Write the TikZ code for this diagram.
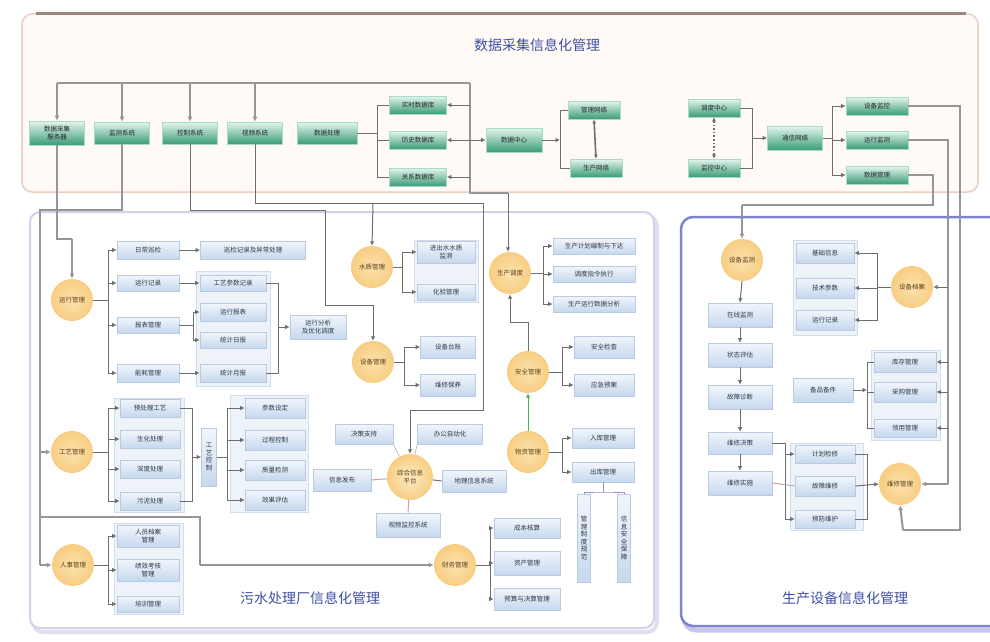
\documentclass[tikz,border=0pt]{standalone}
\usepackage{fontspec}
\newfontfamily\cjk{Noto Sans CJK SC}
\usetikzlibrary{arrows.meta,calc}
\definecolor{lnc}{HTML}{6E6E6E}
\definecolor{busc}{HTML}{969696}
\definecolor{gtop}{HTML}{E4F6EE}
\definecolor{gmid}{HTML}{9AD8BD}
\definecolor{gbot}{HTML}{3A9C78}
\definecolor{gdraw}{HTML}{A8DCC6}
\definecolor{btop}{HTML}{F2F6FC}
\definecolor{bbot}{HTML}{C6D8EE}
\definecolor{bdraw}{HTML}{BACADF}
\definecolor{oin}{HTML}{FCE3AE}
\definecolor{oout}{HTML}{F7CD82}
\definecolor{ttl}{HTML}{3F4FA6}
\definecolor{txt}{HTML}{2F3A48}
\definecolor{ctxt}{HTML}{5E3F14}
\definecolor{contf}{HTML}{EEF3FA}
\definecolor{contd}{HTML}{D3DEEC}
\definecolor{pinkl}{HTML}{C9A3A8}
\definecolor{purl}{HTML}{9A8FC8}
\definecolor{topfill}{HTML}{FFFAF5}
\definecolor{topdraw}{HTML}{E8CFC4}
\definecolor{topedge}{HTML}{9C877D}
\definecolor{llpan}{HTML}{D5CFE8}
\definecolor{rpan}{HTML}{7F83D0}
\newcommand\boxfont{\cjk\fontsize{6.5}{7.6}\selectfont}
\newcommand\ttlfont{\cjk\fontsize{14}{16}\selectfont}
\pgfdeclarelayer{bg}
\pgfsetlayers{bg,main}
\begin{document}
\begin{tikzpicture}[x=1pt,y=-1pt,
  gbox/.style={draw=gdraw, line width=0.6pt, top color=gtop, middle color=gmid, bottom color=gbot, text=black!85, font=\boxfont, inner sep=1pt, align=center},
  bbox/.style={draw=bdraw, line width=0.6pt, top color=btop, bottom color=bbot, text=txt, font=\boxfont, inner sep=1pt, align=center},
  cont/.style={draw=contd, fill=contf, line width=0.5pt},
  circ/.style={circle, minimum size=42pt, inner sep=0pt, inner color=oin, outer color=oout, font=\boxfont, text=ctxt, align=center},
  ln/.style={draw=lnc, line width=1pt},
  ar/.style={ln, -{Latex[length=4.5pt,width=4.5pt]}},
  bus/.style={draw=busc, line width=2pt},
  busar/.style={bus, -{Latex[length=5pt,width=5pt]}},
  ttlstyle/.style={font=\ttlfont, text=ttl}]
\useasboundingbox (0,0) rectangle (990,642);
\clip (0,0) rectangle (990,642);

% ---------------- panels ----------------
\begin{pgfonlayer}{bg}
\fill[white] (0,0) rectangle (990,642);
\draw[fill=topfill, draw=topdraw, line width=1.5pt, rounded corners=10pt] (22,14) rectangle (978,192);
\draw[draw=topedge, line width=3pt] (36,14) -- (966,14);
\draw[draw=llpan!70, line width=4pt, rounded corners=10pt] (33,216) rectangle (657,632);
\draw[draw=llpan, line width=2pt, fill=white, rounded corners=10pt] (30,212) rectangle (654,628);
\draw[draw=rpan!45, line width=5pt, rounded corners=12pt] (684,221) rectangle (1010,630);
\draw[draw=rpan, line width=2.5pt, fill=white, rounded corners=12pt] (681,217) rectangle (1010,626);
\draw[cont] (196,271) rectangle (270,386);
\draw[cont] (414,240) rectangle (478,302);
\draw[cont] (114,398) rectangle (184,512);
\draw[cont] (230,395) rectangle (308,512);
\draw[cont] (114,523) rectangle (183,614);
\draw[cont] (793,240) rectangle (857,335);
\draw[cont] (871,350) rectangle (940,440);
\draw[cont] (790,443) rectangle (863,530);
\end{pgfonlayer}

\node[ttlstyle] (ttop) at (537,45) {数据采集信息化管理};
\node[ttlstyle] (tleft) at (310,598) {污水处理厂信息化管理};
\node[ttlstyle] (tright) at (845,598) {生产设备信息化管理};

% ---------------- top nodes ----------------
\node[gbox, minimum width=55pt, minimum height=24pt] (T1) at (57,133) {数据采集\\服务器};
\node[gbox, minimum width=55pt, minimum height=22pt] (T2) at (122,133) {监测系统};
\node[gbox, minimum width=55pt, minimum height=22pt] (T3) at (190,133) {控制系统};
\node[gbox, minimum width=55pt, minimum height=22pt] (T4) at (255,133) {视频系统};
\node[gbox, minimum width=60pt, minimum height=22pt] (T5) at (327,133) {数据处理};
\node[gbox, minimum width=57pt, minimum height=18pt] (A) at (418,105) {实时数据库};
\node[gbox, minimum width=57pt, minimum height=18pt] (B) at (418,140) {历史数据库};
\node[gbox, minimum width=57pt, minimum height=18pt] (C) at (418,177) {关系数据库};
\node[gbox, minimum width=56pt, minimum height=24pt] (D) at (514,140) {数据中心};
\node[gbox, minimum width=52pt, minimum height=18pt] (E) at (594,110) {管理网络};
\node[gbox, minimum width=52pt, minimum height=18pt] (F) at (596,168) {生产网络};
\node[gbox, minimum width=52pt, minimum height=18pt] (G) at (714,108) {调度中心};
\node[gbox, minimum width=52pt, minimum height=18pt] (H) at (714,168) {监控中心};
\node[gbox, minimum width=55pt, minimum height=24pt] (I) at (795,138) {通信网络};
\node[gbox, minimum width=62pt, minimum height=18pt] (J) at (877,106) {设备监控};
\node[gbox, minimum width=62pt, minimum height=18pt] (K) at (877,140) {运行监测};
\node[gbox, minimum width=62pt, minimum height=18pt] (L) at (877,175) {数据管理};

% ---------------- lower-left nodes ----------------
\node[circ] (C1) at (72,300) {运行管理};
\node[bbox, minimum width=62pt, minimum height=18pt] (b1) at (148,250) {日常巡检};
\node[bbox, minimum width=62pt, minimum height=16pt] (b2) at (148,283) {运行记录};
\node[bbox, minimum width=62pt, minimum height=16pt] (b3) at (148,325) {报表管理};
\node[bbox, minimum width=62pt, minimum height=18pt] (b4) at (148,373) {能耗管理};
\node[bbox, minimum width=105pt, minimum height=18pt] (b5) at (253,250) {巡检记录及异常处理};
\node[bbox, minimum width=66pt, minimum height=16pt] (b6) at (233,283) {工艺参数记录};
\node[bbox, minimum width=66pt, minimum height=18pt] (b7) at (233,312) {运行报表};
\node[bbox, minimum width=66pt, minimum height=16pt] (b8) at (233,340) {统计日报};
\node[bbox, minimum width=66pt, minimum height=18pt] (b9) at (233,373) {统计月报};
\node[bbox, minimum width=56pt, minimum height=24pt] (b10) at (318,327) {运行分析\\及优化调度};

\node[circ] (C2) at (372,267) {水质管理};
\node[bbox, minimum width=58pt, minimum height=22pt] (f1) at (446,252) {进出水水质\\监测};
\node[bbox, minimum width=58pt, minimum height=16pt] (f2) at (446,292) {化验管理};
\node[circ] (C3) at (373,362) {设备管理};
\node[bbox, minimum width=55pt, minimum height=22pt] (g1) at (448,347) {设备台账};
\node[bbox, minimum width=55pt, minimum height=22pt] (g2) at (448,385) {维修保养};
\node[circ] (C4) at (510,273) {生产调度};
\node[bbox, minimum width=82pt, minimum height=16pt] (c1) at (594,246) {生产计划编制与下达};
\node[bbox, minimum width=82pt, minimum height=16pt] (c2) at (594,274) {调度指令执行};
\node[bbox, minimum width=82pt, minimum height=16pt] (c3) at (594,304) {生产运行数据分析};
\node[circ] (C5) at (528,372) {安全管理};
\node[bbox, minimum width=60pt, minimum height=22pt] (d1) at (604,347) {安全检查};
\node[bbox, minimum width=60pt, minimum height=22pt] (d2) at (604,385) {应急预案};
\node[circ] (C6) at (528,452) {物资管理};
\node[bbox, minimum width=62pt, minimum height=20pt] (e1) at (603,438) {入库管理};
\node[bbox, minimum width=62pt, minimum height=20pt] (e2) at (603,472) {出库管理};

\node[circ] (C7) at (72,452) {工艺管理};
\node[bbox, minimum width=60pt, minimum height=18pt] (h1) at (150,408) {预处理工艺};
\node[bbox, minimum width=60pt, minimum height=18pt] (h2) at (150,439) {生化处理};
\node[bbox, minimum width=60pt, minimum height=18pt] (h3) at (150,469) {深度处理};
\node[bbox, minimum width=60pt, minimum height=18pt] (h4) at (150,501) {污泥处理};
\node[bbox, minimum width=15pt, minimum height=58pt] (v1) at (209,457) {工\\艺\\控\\制};
\node[bbox, minimum width=60pt, minimum height=20pt] (i1) at (275,408) {参数设定};
\node[bbox, minimum width=60pt, minimum height=20pt] (i2) at (275,440) {过程控制};
\node[bbox, minimum width=60pt, minimum height=20pt] (i3) at (275,470) {质量检测};
\node[bbox, minimum width=60pt, minimum height=20pt] (i4) at (275,500) {效果评估};

\node[circ, minimum size=46pt, inner color=oin!70!white, outer color=oout] (C8) at (410,477) {综合信息\\平台};
\node[bbox, minimum width=58pt, minimum height=20pt] (HL1) at (364,434) {决策支持};
\node[bbox, minimum width=65pt, minimum height=20pt] (HR1) at (450,434) {办公自动化};
\node[bbox, minimum width=58pt, minimum height=22pt] (HLf) at (342,480) {信息发布};
\node[bbox, minimum width=64pt, minimum height=22pt] (HRg) at (474,481) {地理信息系统};
\node[bbox, minimum width=64pt, minimum height=24pt] (HBo) at (408,525) {视频监控系统};

\node[circ] (C9) at (455,565) {财务管理};
\node[bbox, minimum width=66pt, minimum height=20pt] (j1) at (527,528) {成本核算};
\node[bbox, minimum width=66pt, minimum height=24pt] (j2) at (527,563) {资产管理};
\node[bbox, minimum width=66pt, minimum height=22pt] (j3) at (527,599) {预算与决算管理};
\node[bbox, minimum width=13pt, minimum height=88pt] (col1) at (584,538) {管\\理\\制\\度\\规\\范};
\node[bbox, minimum width=13pt, minimum height=88pt] (col2) at (624,538) {信\\息\\安\\全\\保\\障};

\node[circ] (C10) at (73,565) {人事管理};
\node[bbox, minimum width=62pt, minimum height=22pt] (k1) at (148,536) {人员档案\\管理};
\node[bbox, minimum width=62pt, minimum height=22pt] (k2) at (148,570) {绩效考核\\管理};
\node[bbox, minimum width=62pt, minimum height=16pt] (k3) at (148,604) {培训管理};

% ---------------- lower-right nodes ----------------
\node[circ] (R1) at (742,260) {设备监测};
\node[bbox, minimum width=64pt, minimum height=24pt] (m1) at (740,315) {在线监测};
\node[bbox, minimum width=64pt, minimum height=24pt] (m2) at (740,355) {状态评估};
\node[bbox, minimum width=64pt, minimum height=24pt] (m3) at (740,397) {故障诊断};
\node[bbox, minimum width=64pt, minimum height=22pt] (m4) at (740,443) {维修决策};
\node[bbox, minimum width=64pt, minimum height=24pt] (m5) at (740,483) {维修实施};
\node[circ] (R2) at (912,287) {设备档案};
\node[bbox, minimum width=58pt, minimum height=20pt] (n1) at (825,253) {基础信息};
\node[bbox, minimum width=58pt, minimum height=20pt] (n2) at (825,288) {技术参数};
\node[bbox, minimum width=58pt, minimum height=20pt] (n3) at (825,320) {运行记录};
\node[bbox, minimum width=60pt, minimum height=24pt] (o1) at (823,390) {备品备件};
\node[bbox, minimum width=62pt, minimum height=20pt] (p1) at (905,362) {库存管理};
\node[bbox, minimum width=62pt, minimum height=20pt] (p2) at (905,392) {采购管理};
\node[bbox, minimum width=62pt, minimum height=18pt] (p3) at (905,428) {领用管理};
\node[circ] (R3) at (900,484) {维修管理};
\node[bbox, minimum width=60pt, minimum height=18pt] (q1) at (825,454) {计划检修};
\node[bbox, minimum width=60pt, minimum height=20pt] (q2) at (825,486) {故障维修};
\node[bbox, minimum width=60pt, minimum height=18pt] (q3) at (825,519) {预防维护};

% ---------------- top connectors ----------------
\coordinate (busR) at (470,83);
\draw[bus] (T1.north |- busR) -- (busR);
\draw[busar] (T1.north |- busR) -- (T1.north);
\draw[busar] (T2.north |- busR) -- (T2.north);
\draw[busar] (T3.north |- busR) -- (T3.north);
\draw[busar] (T4.north |- busR) -- (T4.north);
\draw[bus] (busR) -- (470,193) -- (508,193);
\draw[ar] (508,193) -- (C4.north -| 508,0);
\draw[ar] (A.east -| busR) -- (A.east);
\draw[ar] (B.east -| busR) -- (B.east);
\draw[ar] (C.east -| busR) -- (C.east);
\draw[ar] (B.east -| busR) -- (D.west);
\draw[ln] (T5.east) -- (377,133);
\draw[ln] (377,133) |- (A.west);
\draw[ln] (377,133) |- (B.west);
\draw[ln] (377,133) |- (C.west);
\draw[ar] (D.east) -- (560,140);
\draw[ln] (560,140) |- (E.west);
\draw[ln] (560,140) |- (F.west);
\draw[ln, line width=1.6pt, {Latex[length=4pt,width=4pt]}-{Latex[length=4pt,width=4pt]}] (E.south) -- (F.north);
\draw[ln, line width=1.6pt, dotted, {Latex[length=4pt,width=4pt]}-{Latex[length=4pt,width=4pt]}] (G.south) -- (H.north);
\draw[ln] (G.east) -| (752,138);
\draw[ln] (H.east) -| (752,138);
\draw[ar] (752,138) -- (I.west);
\draw[ln] (I.east) -- (832,138);
\draw[ar] (832,138) |- (J.west);
\draw[ar] (832,138) |- (K.west);
\draw[ar] (832,138) |- (L.west);
% right long lines
\draw[bus] (J.east) -- (960,106) -- (960,530) -- (903,530);
\draw[busar] (903,530) -- (R3.south);
\draw[bus] (K.east) -- (948,140) -- (948,484);
\draw[busar] (948,484) -- (R3.east);
\draw[ar] (948,287) -- (R2.east);
\draw[ar] (948,362) -- (p1.east);
\draw[ar] (948,392) -- (p2.east);
\draw[ar] (948,428) -- (p3.east);
\draw[bus] (L.east) -- (933,175) -- (933,205) -- (742,205);
\draw[busar] (742,205) -- (R1.north);

% top panel -> lower left
\draw[bus] (T1.south) -- (57,239) -- (72,239);
\draw[busar] (72,239) -- (C1.north);
\draw[bus] (T2.south) -- (122,210) -- (40,210) -- (40,565);
\draw[busar] (40,565) -- (C10.west);
\draw[busar] (40,452) -- (C7.west);
\draw[bus] (40,517) -- (200,517) -- (200,565);
\draw[busar] (200,565) -- (C9.west);
\draw[ln] (T3.south) -- (190,210) -- (325,210) -- (325,305) -- (373,305);
\draw[ar] (373,305) -- (C3.north);
\draw[ln] (T4.south) -- (255,203) -- (483,203) -- (483,410) -- (410,410);
\draw[ar] (410,410) -- (C8.north);
\draw[ar] (373,203) -- (C2.north);

% ---------------- lower-left connectors ----------------
\draw[ln] (C1.east) -- (108,300);
\foreach \n in {b1,b2,b3,b4} \draw[ar] (108,300) |- (\n.west);
\draw[ar] (b1.east) -- (b5.west);
\draw[ar] (b2.east) -- (b6.west);
\draw[ln] (b3.east) -- (193,325);
\draw[ar] (193,325) |- (b7.west);
\draw[ar] (193,325) |- (b8.west);
\draw[ar] (b4.east) -- (b9.west);
\foreach \n in {b6,b9} \draw[ln] (\n.east) -| (278,327);
\draw[ar] (278,327) -- (b10.west);

\draw[ln] (C2.east) -- (402,267);
\draw[ar] (402,267) |- (f1.west);
\draw[ar] (402,267) |- (f2.west);
\draw[ln] (C3.east) -- (404,362);
\draw[ar] (404,362) |- (g1.west);
\draw[ar] (404,362) |- (g2.west);
\draw[ln] (C4.east) -- (543,273);
\foreach \n in {c1,c2,c3} \draw[ar] (543,273) |- (\n.west);
\draw[ln] (C5.east) -- (562,372);
\draw[ar] (562,372) |- (d1.west);
\draw[ar] (562,372) |- (d2.west);
\draw[ln] (C5.north) -- (528,322) -- (510,322);
\draw[ar] (510,322) -- (C4.south);
\draw[ar, draw=green!40!gray] (C6.north) -- (C5.south);
\draw[ln] (C6.east) -- (562,452);
\draw[ar] (562,452) |- (e1.west);
\draw[ar] (562,452) |- (e2.west);
\draw[ln, draw=purl] (e2.south) -- (603,492);
\draw[ln, draw=purl] (col1.north) |- (603,492) -| (col2.north);

\draw[ln] (C7.east) -- (108,452);
\foreach \n in {h1,h2,h3,h4} \draw[ar] (108,452) |- (\n.west);
\foreach \n in {h1,h4} \draw[ln] (\n.east) -| (192,457);
\draw[ar] (192,457) -- (v1.west);
\draw[ln] (v1.east) -- (227,457);
\foreach \n in {i1,i2,i3,i4} \draw[ar] (227,457) |- (\n.west);

\draw[ln, draw=pinkl] (C8) -- (HLf.east);
\draw[ln] (C8) -- (HRg.west);
\draw[ln, draw=pinkl] (C8) -- (HBo.north);
\draw[ln, draw=pinkl, line width=0.6pt] (C8) -- (HL1.south east);
\draw[ln, draw=pinkl, line width=0.6pt] (C8) -- (HR1.south west);

\draw[ln] (C9.east) -- (490,565);
\foreach \n in {j1,j2,j3} \draw[ar] (490,565) |- (\n.west);

\draw[ln] (C10.east) -- (108,565);
\foreach \n in {k1,k2,k3} \draw[ar] (108,565) |- (\n.west);

% ---------------- lower-right connectors ----------------
\draw[ar] (R1.south) -- (m1.north);
\draw[ar] (m1.south) -- (m2.north);
\draw[ar] (m2.south) -- (m3.north);
\draw[ar] (m3.south) -- (m4.north);
\draw[ar] (m4.south) -- (m5.north);
\draw[ln] (R2.west) -- (877,287);
\foreach \n in {n1,n2,n3} \draw[ar] (877,287) |- (\n.east);
\draw[ar] (o1.east) -- (867,390);
\foreach \n in {p1,p2,p3} \draw[ln] (867,390) |- (\n.west);
\draw[ln] (m4.east) -- (785,443);
\draw[ar] (785,443) |- (q1.west);
\draw[ar] (785,443) |- (q3.west);
\draw[ln, draw=pinkl] (m5.east) -- (q2.west);
\foreach \n in {q1,q3} \draw[ln] (\n.east) -| (867,486);
\draw[ar] (q2.east) -- (R3.west);
\end{tikzpicture}
\end{document}
